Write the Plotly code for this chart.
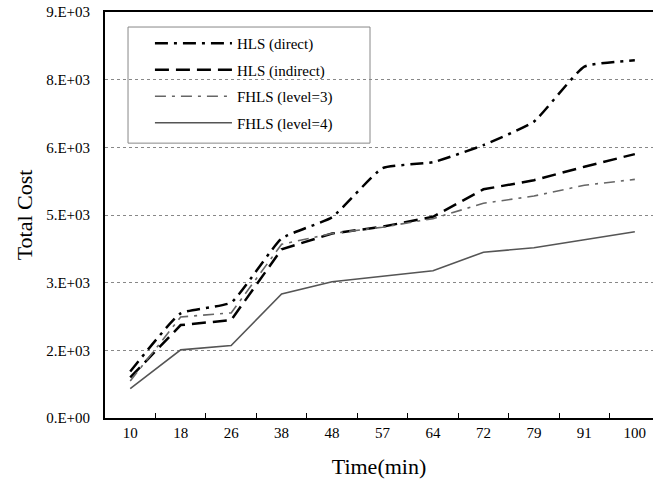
import plotly.graph_objects as go

times = ["10", "18", "26", "38", "48", "57", "64", "72", "79", "91", "100"]
hls_direct = [1030, 2320, 2560, 3980, 4450, 5540, 5670, 6050, 6570, 7790, 7930]
hls_indirect = [900, 2060, 2170, 3740, 4090, 4240, 4460, 5070, 5270, 5570, 5850]
fhls_l3 = [820, 2240, 2330, 3850, 4090, 4230, 4420, 4760, 4920, 5160, 5290]
fhls_l4 = [650, 1510, 1605, 2750, 3020, 3135, 3265, 3675, 3775, 3950, 4130]

ytick_vals = [0, 1500, 3000, 4500, 6000, 7500, 9000]
ytick_text = ["0.E+00", "2.E+03", "3.E+03", "5.E+03", "6.E+03", "8.E+03", "9.E+03"]

series = [
    ("HLS (direct)", hls_direct, dict(color="black", width=2.5, dash="13px,6px,3px,6px", shape="spline", smoothing=0.4)),
    ("HLS (indirect)", hls_indirect, dict(color="black", width=2.5, dash="14px,7px")),
    ("FHLS (level=3)", fhls_l3, dict(color="#666666", width=1.6, dash="11px,6px,3px,6px")),
    ("FHLS (level=4)", fhls_l4, dict(color="#555555", width=1.6)),
]

fig = go.Figure()
for i, (name, vals, line) in enumerate(series):
    fig.add_trace(go.Scatter(x=times, y=vals, name=name, mode="lines", line=line,
                             legendgroup=f"g{i}"))

font = "Liberation Serif, Times New Roman, serif"

fig.update_layout(
    width=653, height=488,
    margin=dict(l=105, r=0, t=12, b=70, autoexpand=False),
    paper_bgcolor="white", plot_bgcolor="white",
    font=dict(family=font, size=15, color="black"),
    showlegend=True,
    legend=dict(x=0.082, y=0.963, xanchor="left", yanchor="top",
                bgcolor="rgba(0,0,0,0)", borderwidth=0,
                font=dict(family=font, size=15, color="black"),
                tracegroupgap=4, itemwidth=77,
                traceorder="grouped"),
    shapes=[dict(type="rect", xref="paper", yref="paper",
                 x0=0.042, x1=0.4836, y0=0.677, y1=0.963,
                 line=dict(color="#888888", width=1), fillcolor="white", layer="below")],
)

fig.update_xaxes(
    type="category", range=[-0.5, 10.36], automargin=False,
    showline=True, linecolor="black", linewidth=2, mirror=True,
    ticks="inside", tickson="boundaries", ticklen=5, tickcolor="black", tickwidth=1,
    showgrid=False, zeroline=False, ticklabeloverflow="allow",
    tickfont=dict(family=font, size=15),
    title=dict(text="Time(min)", font=dict(family=font, size=22), standoff=19),
)
fig.update_yaxes(
    range=[0, 9000], tickvals=ytick_vals, ticktext=ytick_text, automargin=False,
    showline=True, linecolor="black", linewidth=2,
    ticks="", ticklabelstandoff=10, ticklabeloverflow="allow",
    showgrid=True, gridcolor="#888888", gridwidth=1, griddash="3px,3px",
    zeroline=False,
    tickfont=dict(family=font, size=15),
    title=dict(text="Total Cost", font=dict(family=font, size=22), standoff=7),
)

fig.write_html("out.html", config={"displayModeBar": False},
               post_script="document.body.style.margin='0';")
